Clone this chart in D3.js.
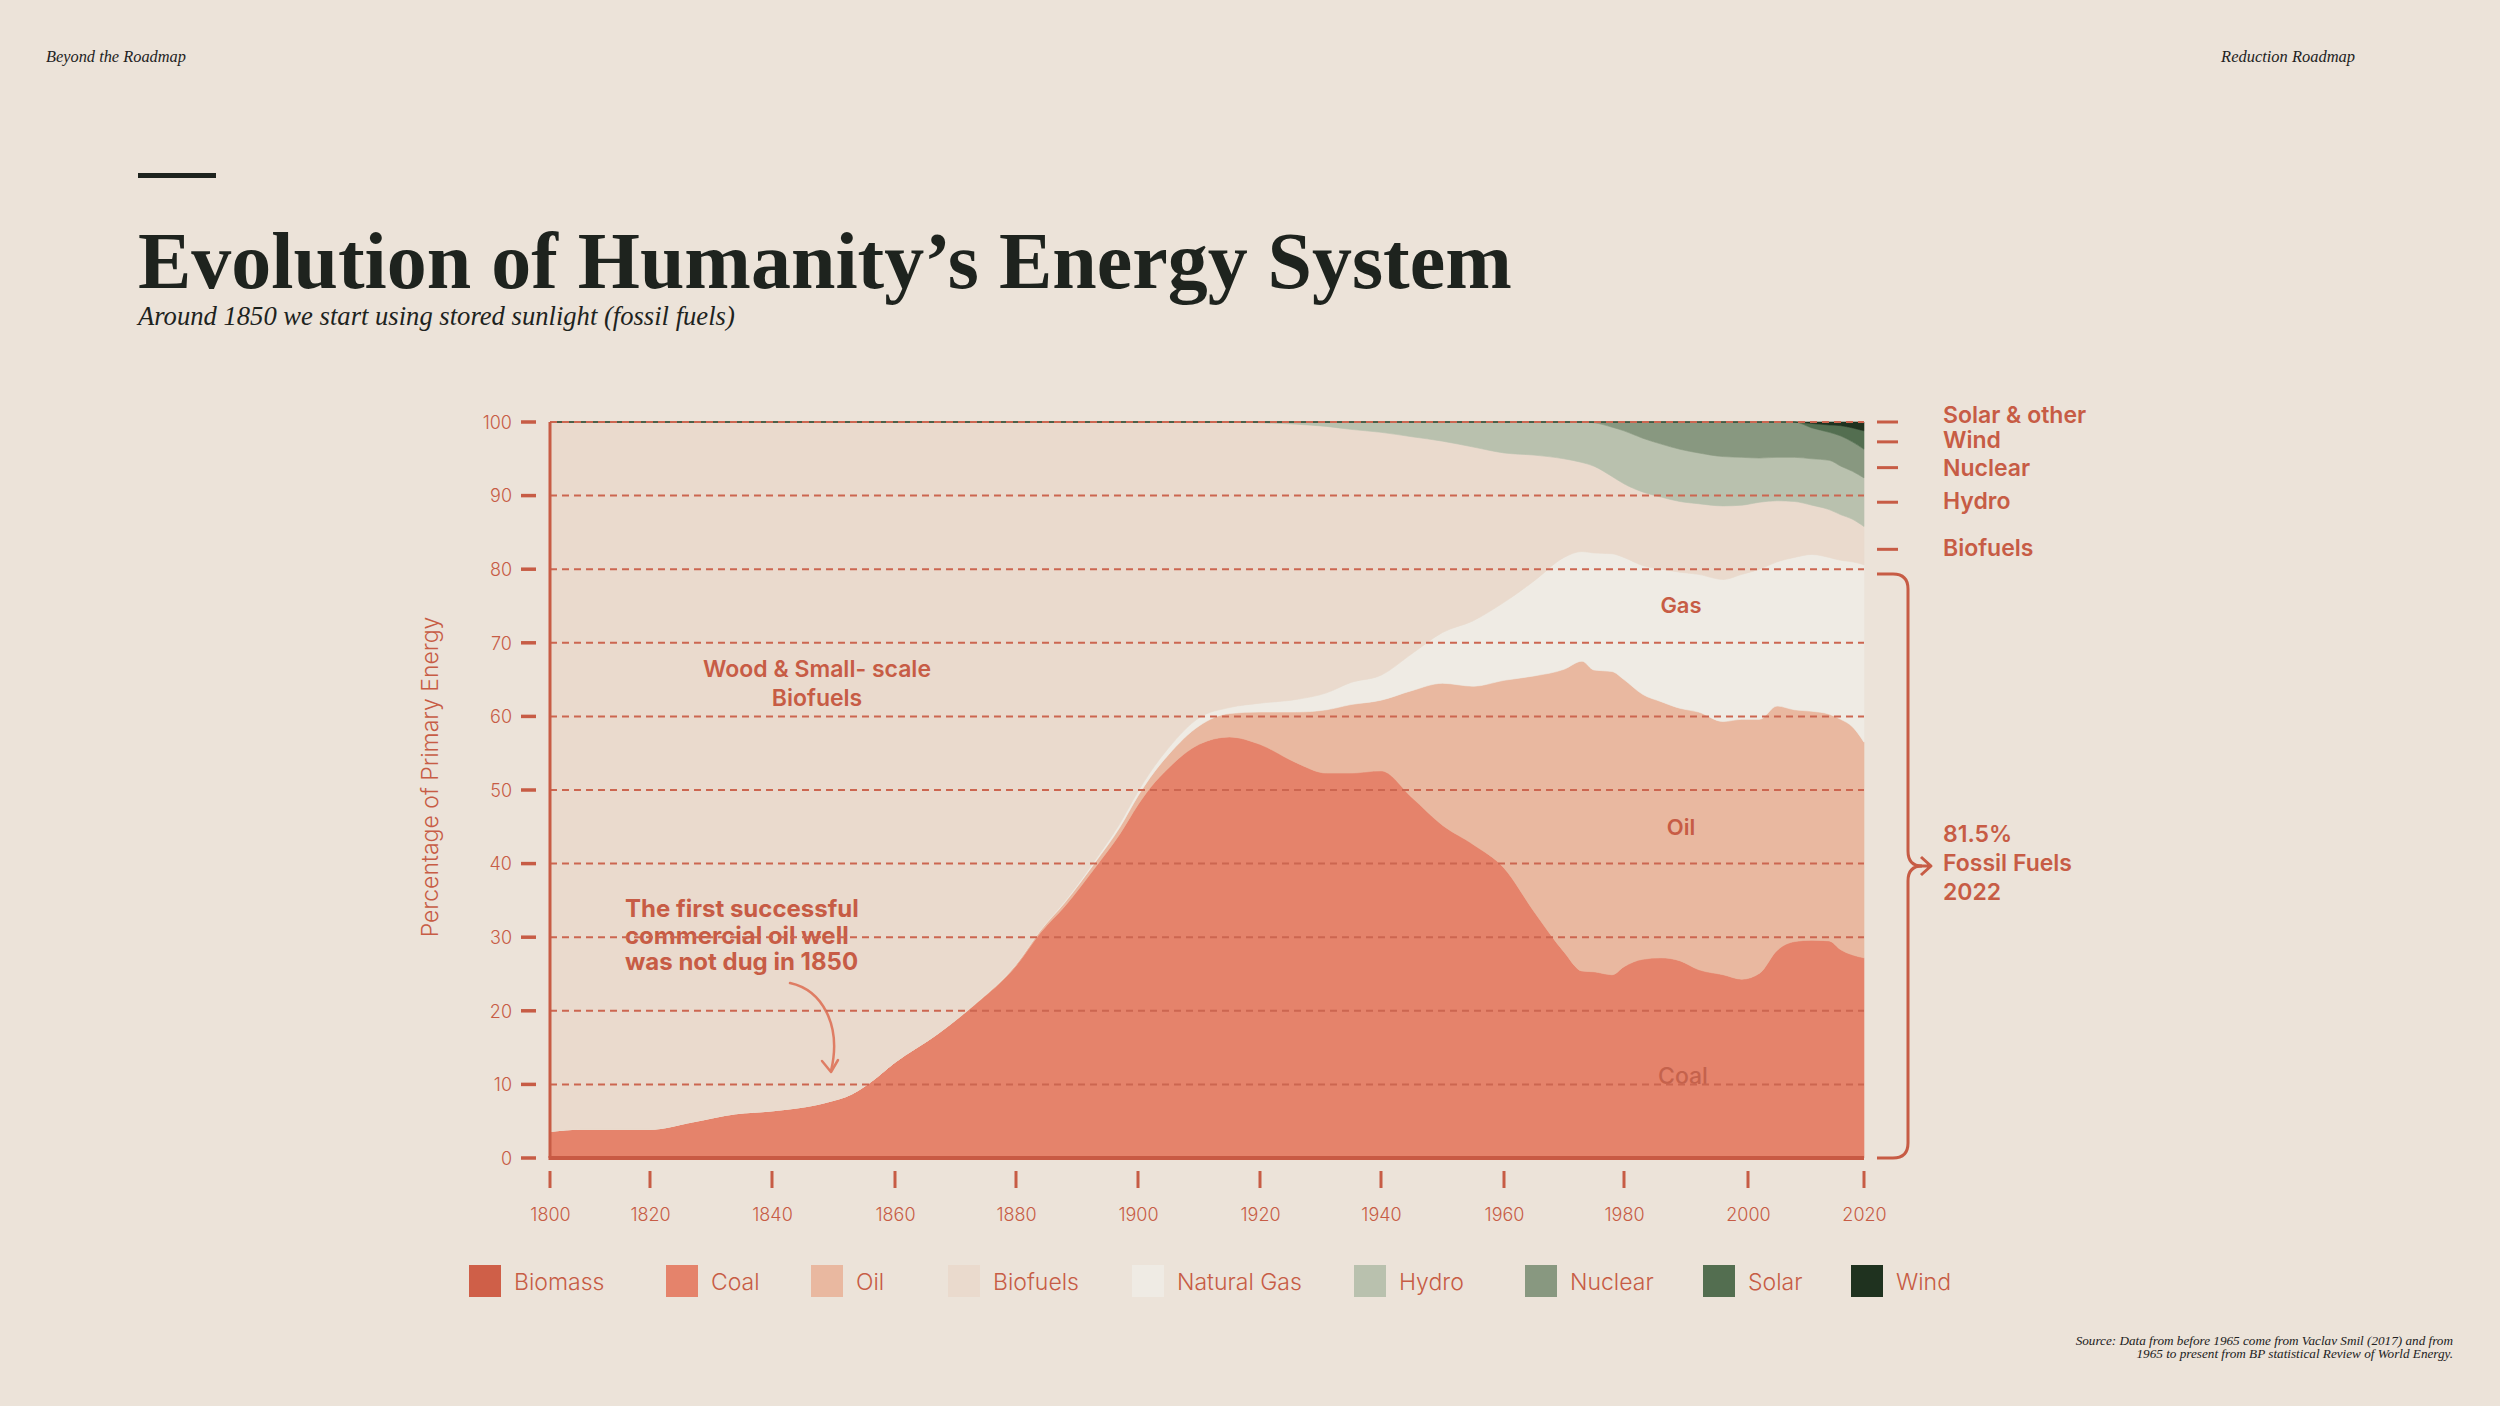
<!DOCTYPE html>
<html><head><meta charset="utf-8">
<script src="https://cdn.jsdelivr.net/npm/d3@7"></script>
<style>
html,body{margin:0;padding:0;background:#ece3d9;}
svg{display:block;}
</style></head>
<body>
<svg id="chart" width="2500" height="1406"></svg>
<script>
// ---------------- DATA ----------------
const years = [1800,1806,1820,1827,1834,1840,1849,1853,1856,1860,1867,1873,1880,1884,1888,1893,1897,1900,1902,1905,1910,1915,1920,1926,1931,1935,1940,1945,1950,1955,1960,1965,1970,1973,1975,1978,1980,1983,1986,1989,1992,1996,1999,2002,2005,2008,2011,2014,2016,2018,2020];
const coal = [3.6,3.9,3.9,4.9,6.0,6.4,7.6,8.7,10.3,13.0,16.8,20.7,26.1,30.6,34.2,39.5,44.0,48.0,50.3,53.0,56.2,57.2,56.2,53.7,52.3,52.3,52.6,49.0,45.2,42.6,39.4,33.5,28.0,25.4,25.3,24.9,26.0,27.0,27.2,26.8,25.6,24.9,24.3,25.1,28.2,29.4,29.6,29.5,28.3,27.6,27.2];
const oil = [0,0,0,0,0,0,0,0,0,0,0.05,0.1,0.2,0.3,0.5,0.7,0.9,1.2,1.4,1.8,2.5,3.2,4.4,6.9,8.6,9.3,9.6,14.5,19.3,21.5,25.5,32.0,38.4,42.1,41.0,41.2,39.0,36.0,34.8,34.3,35.0,34.4,35.3,34.5,33.2,31.5,31.1,30.8,31.3,31.0,29.3];
const gas = [0,0,0,0,0,0,0,0,0,0,0,0,0.05,0.1,0.2,0.3,0.5,0.6,0.7,0.9,1.1,0.8,1.2,1.7,2.3,3.0,3.4,5.0,6.9,8.9,10.6,12.9,15.2,14.9,15.9,16.0,16.6,17.5,18.0,18.5,18.7,19.3,19.7,20.4,19.6,20.7,21.3,21.3,21.6,22.4,24.1];
const biofuels = [96.4,96.1,96.1,95.1,94.0,93.6,92.4,91.3,89.7,87.0,83.15,79.2,73.65,69.0,65.1,59.5,54.6,50.2,47.6,44.3,40.2,38.8,38.1,37.4,36.2,34.4,33.0,29.5,26.0,23.6,20.3,17.1,13.4,12.1,11.8,10.5,10.0,10.0,9.8,9.6,9.6,10.0,9.4,9.1,8.3,7.6,6.7,6.5,6.2,5.8,5.2];
const hydro = [0,0,0,0,0,0,0,0,0,0,0,0,0,0,0,0,0,0,0,0,0,0,0.1,0.3,0.6,1.0,1.4,2.0,2.6,3.4,4.2,4.5,5.0,5.5,5.9,6.7,7.2,7.3,7.2,7.1,6.9,6.7,6.5,6.0,5.9,6.0,6.3,6.7,6.6,6.5,6.6];
const nuclear = [0,0,0,0,0,0,0,0,0,0,0,0,0,0,0,0,0,0,0,0,0,0,0,0,0,0,0,0,0,0,0,0,0,0,0.1,0.7,1.2,2.2,3.0,3.7,4.2,4.7,4.8,4.9,4.8,4.8,4.2,3.8,4.1,4.0,3.9];
const solar = [0,0,0,0,0,0,0,0,0,0,0,0,0,0,0,0,0,0,0,0,0,0,0,0,0,0,0,0,0,0,0,0,0,0,0,0,0,0,0,0,0,0,0,0,0,0,0.6,1.0,1.4,1.9,2.5];
const wind = [0,0,0,0,0,0,0,0,0,0,0,0,0,0,0,0,0,0,0,0,0,0,0,0,0,0,0,0,0,0,0,0,0,0,0,0,0,0,0,0,0,0,0,0,0,0,0.2,0.4,0.5,0.8,1.2];

const stackKeys = ["Coal","Oil","Natural Gas","Biofuels","Hydro","Nuclear","Solar","Wind"];
const legendItems = ["Biomass","Coal","Oil","Biofuels","Natural Gas","Hydro","Nuclear","Solar","Wind"];
const yTicks = [0,10,20,30,40,50,60,70,80,90,100];
const xTicks = [1800,1820,1840,1860,1880,1900,1920,1940,1960,1980,2000,2020];
const rightLabels = ["Solar & other","Wind","Nuclear","Hydro","Biofuels"];
const rightLabelTicks = [100,97.3,93.8,89.1,82.7];
const rightLabelText = [100.9,97.5,93.8,89.3,82.9];
const fossilShare = "81.5%";
const fossilYear = "2022";

// ---------------- STYLE / LAYOUT ----------------
const colors = {
  "Biomass":"#cf5f48","Coal":"#e5836b","Oil":"#e9b8a0","Biofuels":"#eadacd",
  "Natural Gas":"#efebe4","Hydro":"#b9c1ae","Nuclear":"#889880","Solar":"#536e50","Wind":"#1f321f"
};
const RED = "#c75c45";
const BG = "#ece3d9";
const xTickPx = [550,650,772,895,1016,1138,1260,1381,1504,1624,1748,1864];
const legendX = [469,666,811,948,1132,1354,1525,1703,1851];
const SANS = "Inter, Roboto, 'Noto Sans', sans-serif";
const SERIF = "'Liberation Serif', 'DejaVu Serif', serif";

const svg = d3.select("#chart");
svg.append("rect").attr("width",2500).attr("height",1406).attr("fill",BG);

const x = d3.scaleLinear().domain(xTicks).range(xTickPx);
const y = d3.scaleLinear().domain([0,100]).range([1158,422]);

const series = {"Coal":coal,"Oil":oil,"Natural Gas":gas,"Biofuels":biofuels,"Hydro":hydro,"Nuclear":nuclear,"Solar":solar,"Wind":wind};
const rows = years.map((yr,i)=>{ const r={year:yr}; stackKeys.forEach(k=>r[k]=series[k][i]); return r; });
const stacked = d3.stack().keys(stackKeys)(rows);

const area = d3.area()
  .x(d=>x(d.data.year)).y0(d=>y(d[0])).y1(d=>y(d[1]))
  .curve(d3.curveMonotoneX);

svg.append("g").selectAll("path").data(stacked).join("path")
  .attr("d",area).attr("fill",d=>colors[d.key])
  .attr("stroke",d=>colors[d.key]).attr("stroke-width",0.6);

// ---------------- in-chart annotations ----------------
const ann = svg.append("g").attr("font-family",SANS).attr("fill",RED);
ann.append("text").attr("x",817).attr("y",677).attr("text-anchor","middle")
  .attr("font-size",23).attr("font-weight",600).text("Wood & Small- scale");
ann.append("text").attr("x",817).attr("y",706).attr("text-anchor","middle")
  .attr("font-size",23).attr("font-weight",600).text("Biofuels");
["The first successful","commercial oil well","was not dug in 1850"].forEach((t,i)=>{
  ann.append("text").attr("x",625).attr("y",917+i*26.5)
    .attr("font-size",24).attr("font-weight",700).text(t);
});
ann.append("text").attr("x",1681).attr("y",613).attr("text-anchor","middle")
  .attr("font-size",22).attr("font-weight",600).text("Gas");
ann.append("text").attr("x",1681).attr("y",835).attr("text-anchor","middle")
  .attr("font-size",22).attr("font-weight",600).text("Oil");
ann.append("text").attr("x",1683).attr("y",1084).attr("text-anchor","middle")
  .attr("font-size",23).attr("font-weight",500).attr("fill","#c4624c").text("Coal");

// curved arrow
svg.append("path").attr("d","M790,983 C822,990 842,1025 831,1071")
  .attr("fill","none").attr("stroke","#df7d64").attr("stroke-width",2.5).attr("stroke-linecap","round");
svg.append("path").attr("d","M822,1061 L831,1072 L838,1060")
  .attr("fill","none").attr("stroke","#df7d64").attr("stroke-width",2.5)
  .attr("stroke-linecap","round").attr("stroke-linejoin","round");

// ---------------- gridlines ----------------
svg.append("g").selectAll("line").data(yTicks.filter(v=>v>0)).join("line")
  .attr("x1",x(1800)).attr("x2",x(2020)).attr("y1",d=>y(d)).attr("y2",d=>y(d))
  .attr("stroke","#cc6650").attr("stroke-width",2).attr("stroke-dasharray","7,5");

// ---------------- axes ----------------
const yAxis = d3.axisLeft(y).tickValues(yTicks).tickSize(0).tickPadding(0);
const yg = svg.append("g").attr("transform","translate(512,0)").call(yAxis);
yg.select(".domain").remove();
yg.selectAll("text").attr("font-family",SANS).attr("font-size",18).attr("font-weight",300)
  .attr("fill",RED).attr("dx",0).attr("dy","0.35em");
svg.append("g").selectAll("line").data(yTicks).join("line")
  .attr("x1",521).attr("x2",536).attr("y1",d=>y(d)).attr("y2",d=>y(d))
  .attr("stroke",RED).attr("stroke-width",3.5);

const xAxis = d3.axisBottom(x).tickValues(xTicks).tickFormat(d3.format("d")).tickSize(0).tickPadding(0);
const xg = svg.append("g").attr("transform","translate(0,1221)").call(xAxis);
xg.select(".domain").remove();
xg.selectAll("text").attr("font-family",SANS).attr("font-size",18).attr("font-weight",300)
  .attr("fill",RED).attr("dy",0).attr("y",0);
svg.append("g").selectAll("line").data(xTicks).join("line")
  .attr("x1",d=>x(d)).attr("x2",d=>x(d)).attr("y1",1171).attr("y2",1188)
  .attr("stroke",RED).attr("stroke-width",3);

// axis lines
svg.append("line").attr("x1",x(1800)).attr("x2",x(1800)).attr("y1",y(100)).attr("y2",y(0))
  .attr("stroke",RED).attr("stroke-width",3);
svg.append("line").attr("x1",x(1800)-1.5).attr("x2",x(2020)).attr("y1",y(0)).attr("y2",y(0))
  .attr("stroke","#c85a44").attr("stroke-width",4);

svg.append("text").attr("transform",`translate(438,777) rotate(-90)`).attr("text-anchor","middle")
  .attr("font-family",SANS).attr("font-size",23).attr("font-weight",300).attr("fill",RED)
  .text("Percentage of Primary Energy");

// ---------------- right labels ----------------
const rl = svg.append("g");
rl.selectAll("line").data(rightLabelTicks).join("line")
  .attr("x1",1877).attr("x2",1898).attr("y1",d=>y(d)).attr("y2",d=>y(d))
  .attr("stroke",RED).attr("stroke-width",3);
rl.selectAll("text").data(rightLabels).join("text")
  .attr("x",1943).attr("y",(d,i)=>y(rightLabelText[i])).attr("dy","0.35em")
  .attr("font-family",SANS).attr("font-size",23).attr("font-weight",600).attr("fill",RED)
  .text(d=>d);

// bracket
const bTop = 574, bBot = y(0), bMid = (574+y(0))/2, bx = 1908;
svg.append("path")
  .attr("d",`M1877,${bTop} H1893 Q${bx},${bTop} ${bx},${bTop+15} V${bMid-15} Q${bx},${bMid} ${bx+14},${bMid} Q${bx},${bMid} ${bx},${bMid+15} V${bBot-15} Q${bx},${bBot} 1893,${bBot} H1877`)
  .attr("fill","none").attr("stroke",RED).attr("stroke-width",3);
svg.append("path").attr("d",`M${bx+10},${bMid} H1931 M1921,${bMid-9} L1931,${bMid} L1921,${bMid+9}`)
  .attr("fill","none").attr("stroke",RED).attr("stroke-width",3).attr("stroke-linejoin","round");
[fossilShare,"Fossil Fuels",fossilYear].forEach((t,i)=>{
  svg.append("text").attr("x",1943).attr("y",842+i*29)
    .attr("font-family",SANS).attr("font-size",23).attr("font-weight",600).attr("fill",RED).text(t);
});

// ---------------- legend ----------------
const lg = svg.append("g");
legendItems.forEach((k,i)=>{
  lg.append("rect").attr("x",legendX[i]).attr("y",1265).attr("width",32).attr("height",32)
    .attr("fill",colors[k]);
  lg.append("text").attr("x",legendX[i]+45).attr("y",1290)
    .attr("font-family",SANS).attr("font-size",23).attr("font-weight",300).attr("fill",RED).text(k);
});

// ---------------- headers ----------------
function fit(sel,w){ const L=sel.node().getComputedTextLength(); const fs=parseFloat(sel.attr("font-size")); sel.attr("font-size",fs*w/L); return sel; }
fit(svg.append("text").attr("x",46).attr("y",62).attr("font-family",SERIF).attr("font-style","italic")
  .attr("font-size",17).attr("fill","#222").text("Beyond the Roadmap"),140);
fit(svg.append("text").attr("x",2355).attr("y",62).attr("text-anchor","end").attr("font-family",SERIF).attr("font-style","italic")
  .attr("font-size",17).attr("fill","#222").text("Reduction Roadmap"),134);
svg.append("rect").attr("x",138).attr("y",173).attr("width",78).attr("height",5).attr("fill","#1e231e");
fit(svg.append("text").attr("x",138).attr("y",288).attr("font-family",SERIF).attr("font-weight",700)
  .attr("font-size",76).attr("fill","#1e231e").text("Evolution of Humanity’s Energy System"),1374);
fit(svg.append("text").attr("x",138).attr("y",325).attr("font-family",SERIF).attr("font-style","italic")
  .attr("font-size",25).attr("fill","#1e231e").text("Around 1850 we start using stored sunlight (fossil fuels)"),597);
const s1 = svg.append("text").attr("x",2453).attr("y",1345).attr("text-anchor","end").attr("font-family",SERIF)
  .attr("font-style","italic").attr("font-size",14).attr("fill","#222")
  .text("Source: Data from before 1965 come from Vaclav Smil (2017) and from");
fit(s1,378);
svg.append("text").attr("x",2453).attr("y",1358).attr("text-anchor","end").attr("font-family",SERIF)
  .attr("font-style","italic").attr("font-size",s1.attr("font-size")).attr("fill","#222")
  .text("1965 to present from BP statistical Review of World Energy.");
</script>
</body></html>
